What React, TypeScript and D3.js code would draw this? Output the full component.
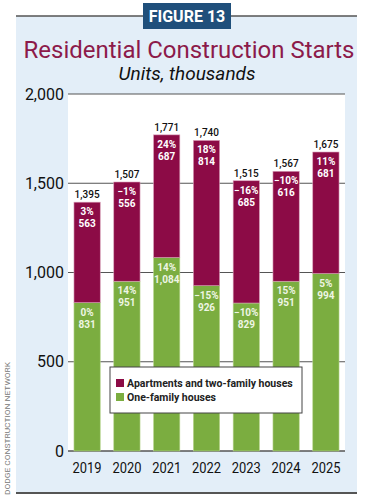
import React from "react";
import * as d3 from "d3";

const years = ["2019", "2020", "2021", "2022", "2023", "2024", "2025"];
const oneFamily = [831, 951, 1084, 926, 829, 951, 994];
const apartments = [563, 556, 687, 814, 685, 616, 681];
const totals = [1395, 1507, 1771, 1740, 1515, 1567, 1675];
const oneFamilyPct = ["0%", "14%", "14%", "−15%", "−10%", "15%", "5%"];
const apartmentsPct = ["3%", "−1%", "24%", "18%", "−16%", "−10%", "11%"];
const yTicks = [0, 500, 1000, 1500, 2000];

const W = 368;
const H = 500;
const MAROON = "#8c0b46";
const GREEN = "#7bad40";
const NAVY = "#1f4f7b";
const PANEL = "#e3eef8";
const FONT = "Roboto, 'Noto Sans', sans-serif";

export default function App() {
  const plot = { left: 68, right: 345, top: 94, bottom: 451 };

  const x = d3.scaleBand<string>()
    .domain(years)
    .range([plot.left, plot.right])
    .paddingInner(0.34)
    .paddingOuter(0.15);

  const y = d3.scaleLinear()
    .domain([0, 2000])
    .range([plot.bottom, plot.top]);

  const fmt = d3.format(",");

  return (
    <svg width={W} height={H} style={{ position: "absolute", left: 0, top: 0 }}>
      <rect x={0} y={0} width={W} height={H} fill="#fff" />
      <rect x={16} y={16} width={341} height={477} fill={PANEL} />
      <line x1={16} x2={357} y1={16} y2={16} stroke="#555" strokeWidth={1.5} />
      <line x1={16} x2={357} y1={493} y2={493} stroke="#555" strokeWidth={2} />

      <rect x={143} y={3} width={88} height={26} fill={NAVY} />
      <text x={187} y={22} textAnchor="middle" fill="#fff" fontFamily={FONT}
        fontWeight={700} fontSize={16}>FIGURE 13</text>

      <text x={189} y={58} textAnchor="middle" fill="#8c1a4a" fontFamily={FONT}
        fontSize={24} textLength={331} lengthAdjust="spacingAndGlyphs">
        Residential Construction Starts
      </text>
      <text x={187} y={80} textAnchor="middle" fill="#111" fontFamily={FONT}
        fontStyle="italic" fontSize={19}>Units, thousands</text>

      <rect x={plot.left} y={plot.top} width={plot.right - plot.left}
        height={plot.bottom - plot.top} fill="#fff" />

      {yTicks.map((t) => (
        <g key={t}>
          <line x1={plot.left} x2={plot.right} y1={y(t)} y2={y(t)}
            stroke="#555" strokeWidth={t === 0 ? 1.6 : 1.2} />
          <text x={64} y={y(t)} dy="0.35em" textAnchor="end" fill="#111"
            fontFamily={FONT} fontSize={16}>{fmt(t)}</text>
        </g>
      ))}

      {years.map((yr, i) => {
        const bx = x(yr)!;
        const bw = x.bandwidth();
        const cx = bx + bw / 2;
        const gTop = y(oneFamily[i]);
        const aTop = y(oneFamily[i] + apartments[i]);
        return (
          <g key={yr}>
            <rect x={bx} y={gTop} width={bw} height={y(0) - gTop} fill={GREEN}
              stroke="#b9d68f" strokeWidth={0.6} />
            <rect x={bx} y={aTop} width={bw} height={gTop - aTop} fill={MAROON}
              stroke="#d9a0b9" strokeWidth={0.6} />
            <text x={cx} y={aTop - 4} textAnchor="middle" fill="#111"
              fontFamily={FONT} fontWeight={500} fontSize={10}>{fmt(totals[i])}</text>
            <g fill="#fff" fontFamily={FONT} fontWeight={700} fontSize={10} textAnchor="middle">
              <text x={cx} y={aTop + 13}>{apartmentsPct[i]}</text>
              <text x={cx} y={aTop + 25}>{fmt(apartments[i])}</text>
              <text x={cx} y={gTop + 13} fill="#eef5e4">{oneFamilyPct[i]}</text>
              <text x={cx} y={gTop + 25} fill="#eef5e4">{fmt(oneFamily[i])}</text>
            </g>
            <text x={cx} y={473} textAnchor="middle" fill="#111" fontFamily={FONT}
              fontSize={15} textLength={29} lengthAdjust="spacingAndGlyphs">{yr}</text>
          </g>
        );
      })}

      <g>
        <rect x={110} y={367} width={192} height={46} fill="#fff" stroke="#444" strokeWidth={1} />
        <rect x={116} y={379} width={8} height={8} fill={MAROON} />
        <rect x={116} y={393} width={8} height={8} fill={GREEN} />
        <text x={127} y={387} fill="#222" fontFamily={FONT} fontWeight={700} fontSize={10.5}>
          Apartments and two-family houses
        </text>
        <text x={127} y={401} fill="#222" fontFamily={FONT} fontWeight={700} fontSize={10.5}>
          One-family houses
        </text>
      </g>

      <text transform="translate(10,495) rotate(-90)" fill="#777" fontFamily={FONT}
        fontSize={8} textLength={133} lengthAdjust="spacingAndGlyphs">
        DODGE CONSTRUCTION NETWORK
      </text>
    </svg>
  );
}
